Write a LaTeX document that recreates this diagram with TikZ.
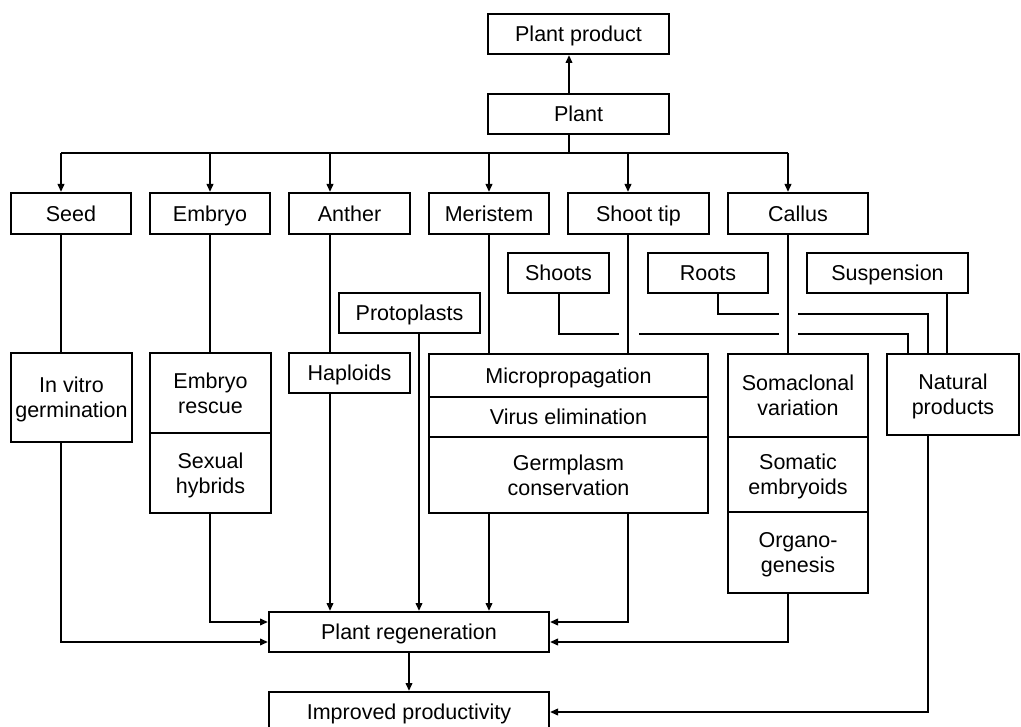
\documentclass[tikz,border=0pt]{standalone}
\usepackage{fontspec}
\setmainfont{Liberation Sans}
\usetikzlibrary{arrows.meta,calc}
\begin{document}
\begin{tikzpicture}[x=1pt,y=-1pt,
  box/.style={draw, line width=2pt, inner sep=0pt, align=center, text depth=0pt, font=\fontsize{21.5}{25}\selectfont},
  one/.style={text height=15.4pt},
  ln/.style={line width=2pt},
  arr/.style={ln, -{Triangle[length=8pt,width=6.5pt]}}]
\useasboundingbox (0,0) rectangle (1021,727);
% boxes
\node[box, one, minimum width=181pt, minimum height=40pt] (pp) at (578.5,34) {Plant product};
\node[box, one, minimum width=181pt, minimum height=40pt] (plant) at (578.5,114) {Plant};
\node[box, one, minimum width=120pt, minimum height=41pt] (seed) at (71,213.5) {Seed};
\node[box, one, minimum width=120pt, minimum height=41pt] (embryo) at (210,213.5) {Embryo};
\node[box, one, minimum width=121pt, minimum height=41pt] (anther) at (349.5,213.5) {Anther};
\node[box, one, minimum width=120pt, minimum height=41pt] (meristem) at (489,213.5) {Meristem};
\node[box, one, minimum width=141pt, minimum height=41pt] (shoottip) at (638.5,213.5) {Shoot tip};
\node[box, one, minimum width=140pt, minimum height=41pt] (callus) at (798,213.5) {Callus};
\node[box, one, minimum width=101pt, minimum height=40pt] (shoots) at (558.5,273) {Shoots};
\node[box, one, minimum width=120pt, minimum height=40pt] (roots) at (708,273) {Roots};
\node[box, one, minimum width=161pt, minimum height=40pt] (susp) at (887.5,273) {Suspension};
\node[box, one, minimum width=141pt, minimum height=40pt] (proto) at (409.5,313) {Protoplasts};
\node[box, minimum width=121pt, minimum height=89pt] (invitro) at (71.5,397.5) {In vitro\\germination};
\node[box, minimum width=121pt, minimum height=80pt] (rescue) at (210.5,393) {Embryo\\rescue};
\node[box, minimum width=121pt, minimum height=80pt] (hybrids) at (210.5,473) {Sexual\\hybrids};
\node[box, one, minimum width=121pt, minimum height=40pt] (hap) at (349.5,373) {Haploids};
\node[box, one, minimum width=279pt, minimum height=43pt] (micro) at (568.5,375.5) {Micropropagation};
\node[box, one, minimum width=279pt, minimum height=40pt] (virus) at (568.5,417) {Virus elimination};
\node[box, minimum width=279pt, minimum height=76pt] (germ) at (568.5,475) {Germplasm\\conservation};
\node[box, minimum width=140pt, minimum height=83pt] (soma) at (798,395.5) {Somaclonal\\variation};
\node[box, minimum width=140pt, minimum height=75pt] (somatic) at (798,474.5) {Somatic\\embryoids};
\node[box, minimum width=140pt, minimum height=81pt] (organo) at (798,552.5) {Organo-\\genesis};
\node[box, minimum width=132pt, minimum height=81pt] (natural) at (953,394.5) {Natural\\products};
\node[box, one, minimum width=280pt, minimum height=40pt] (regen) at (409,632) {Plant regeneration};
\node[box, one, minimum width=280pt, minimum height=40pt] (improved) at (409,712) {Improved productivity};
% helper coordinates
\coordinate (top) at (569,153);
\coordinate (cS) at (61,153);
\coordinate (cE) at (210,153);
\coordinate (cA) at (330,153);
\coordinate (cP) at (419,153);
\coordinate (cM) at (489,153);
\coordinate (cT) at (628,153);
\coordinate (cC) at (788,153);
\coordinate (cSh) at (559,153);
\coordinate (cRo) at (718,153);
\coordinate (cN1) at (908,153);
\coordinate (cN2) at (928,153);
\coordinate (cN3) at (947,153);
\coordinate (cRg) at (409,153);
\coordinate (yR1) at (0,622);
\coordinate (yR2) at (0,642);
\coordinate (ySh) at (0,334);
\coordinate (yRo) at (0,314);
\coordinate (yNat) at (0,712);
% top part
\draw[arr] (top |- plant.north) -- (top |- pp.south);
\draw[ln] (top |- plant.south) -- (top);
\draw[ln] (cS) -- (cC);
\draw[arr] (cS) -- (cS |- seed.north);
\draw[arr] (cE) -- (cE |- embryo.north);
\draw[arr] (cA) -- (cA |- anther.north);
\draw[arr] (cM) -- (cM |- meristem.north);
\draw[arr] (cT) -- (cT |- shoottip.north);
\draw[arr] (cC) -- (cC |- callus.north);
% columns
\draw[ln] (cS |- seed.south) -- (cS |- invitro.north);
\draw[arr] (cS |- invitro.south) -- (cS |- yR2) -- (regen.west |- yR2);
\draw[ln] (cE |- embryo.south) -- (cE |- rescue.north);
\draw[arr] (cE |- hybrids.south) -- (cE |- yR1) -- (regen.west |- yR1);
\draw[ln] (cA |- anther.south) -- (cA |- hap.north);
\draw[arr] (cA |- hap.south) -- (cA |- regen.north);
\draw[arr] (cP |- proto.south) -- (cP |- regen.north);
\draw[ln] (cM |- meristem.south) -- (cM |- micro.north);
\draw[arr] (cM |- germ.south) -- (cM |- regen.north);
\draw[ln] (cT |- shoottip.south) -- (cT |- micro.north);
\draw[arr] (cT |- germ.south) -- (cT |- yR1) -- (regen.east |- yR1);
\draw[ln] (cC |- callus.south) -- (cC |- soma.north);
\draw[arr] (cC |- organo.south) -- (cC |- yR2) -- (regen.east |- yR2);
% shoots, roots, suspension to natural products
\draw[ln] (cSh |- shoots.south) -- (cSh |- ySh) -- ($(cT |- ySh)+(-9,0)$);
\draw[ln] ($(cT |- ySh)+(11,0)$) -- ($(cC |- ySh)+(-9,0)$);
\draw[ln] ($(cC |- ySh)+(10,0)$) -- (cN1 |- ySh) -- (cN1 |- natural.north);
\draw[ln] (cRo |- roots.south) -- (cRo |- yRo) -- ($(cC |- yRo)+(-9,0)$);
\draw[ln] ($(cC |- yRo)+(10,0)$) -- (cN2 |- yRo) -- (cN2 |- natural.north);
\draw[ln] (cN3 |- susp.south) -- (cN3 |- natural.north);
\draw[arr] (cN2 |- natural.south) -- (cN2 |- yNat) -- (improved.east |- yNat);
% bottom
\draw[arr] (cRg |- regen.south) -- (cRg |- improved.north);
\end{tikzpicture}
\end{document}
